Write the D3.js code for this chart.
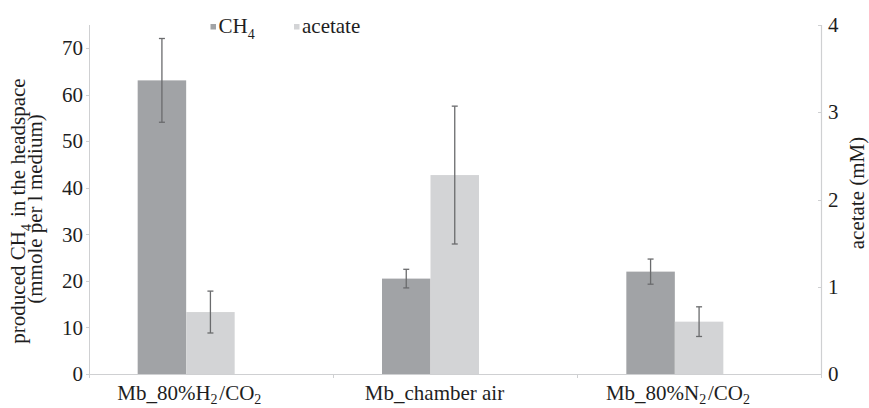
<!DOCTYPE html>
<html><head><meta charset="utf-8">
<script src="https://cdn.jsdelivr.net/npm/d3@7"></script>
<style>
html,body{margin:0;padding:0;background:#fff;}
svg{display:block;}
svg text{font-family:'Liberation Serif','Times New Roman',Times,'DejaVu Serif',serif;}
</style></head>
<body><svg id="c" width="869" height="408"></svg>
<script>
const categories = ["Mb_80%H2/CO2", "Mb_chamber air", "Mb_80%N2/CO2"];
const seriesNames = ["CH4", "acetate"];
const ch4 = [63.1, 20.5, 22.0];
const ch4Err = [9.0, 2.0, 2.7];
const acetate = [0.71, 2.28, 0.60];
const acetateErr = [0.24, 0.79, 0.17];
const leftTicks = [0, 10, 20, 30, 40, 50, 60, 70];
const rightTicks = [0, 1, 2, 3, 4];
const leftTitle = ["produced CH4 in the headspace", "(mmole per l medium)"];
const rightTitle = "acetate (mM)";

const FONT = "'Liberation Serif','Times New Roman',Times,'DejaVu Serif',serif";
const svg = d3.select("#c").attr("font-family", FONT);
const FS = 21, TXT = "#1e1e1e";
const AX = "#cfd0d2";
const plotL = 89, plotR = 821, plotT = 25, plotB = 374;
const colors = {CH4: "#a1a3a6", acetate: "#d3d4d6"};

const yL = d3.scaleLinear().domain([0, 75]).range([plotB, plotT]);
const yR = d3.scaleLinear().domain([0, 4]).range([plotB, plotT]);
const x = d3.scaleBand().domain(categories).range([64, 797]).paddingInner(0.603).paddingOuter(0.3015);
const xs = d3.scaleBand().domain(seriesNames).range([0, x.bandwidth()]);
const xt = d3.scaleLinear().domain([0, 3]).range([plotL, plotR]);

function richText(sel, str, subSize, shift) {
  const parts = str.split(/(?<=[A-Z])(\d)/);
  parts.forEach((p, i) => {
    if (!p) return;
    if (i % 2 === 1) {
      sel.append("tspan").attr("dy", shift).attr("font-size", subSize).text(p);
      sel.append("tspan").attr("dy", -shift).text("\u200A");
    } else {
      sel.append("tspan").text(p);
    }
  });
}
function txt(parent) {
  return parent.append("text").attr("font-family", FONT).attr("font-size", FS).attr("fill", TXT);
}

svg.append("line").attr("x1", plotL + 0.5).attr("x2", plotL + 0.5).attr("y1", plotT).attr("y2", plotB)
  .attr("stroke", AX).attr("stroke-width", 1);
svg.append("line").attr("x1", plotR + 0.5).attr("x2", plotR + 0.5).attr("y1", plotT).attr("y2", plotB)
  .attr("stroke", AX).attr("stroke-width", 1.2);

const gl = svg.append("g");
leftTicks.forEach(t => {
  gl.append("line").attr("x1", plotL - 3).attr("x2", plotL).attr("y1", Math.round(yL(t)) + 0.5).attr("y2", Math.round(yL(t)) + 0.5)
    .attr("stroke", AX);
  txt(gl).attr("x", 83).attr("y", yL(t)).attr("dy", "0.34em").attr("text-anchor", "end").text(t);
});
const gr = svg.append("g");
rightTicks.forEach(t => {
  gr.append("line").attr("x1", plotR - 3).attr("x2", plotR).attr("y1", Math.round(yR(t)) + 0.5).attr("y2", Math.round(yR(t)) + 0.5)
    .attr("stroke", AX);
  txt(gr).attr("x", 828).attr("y", yR(t)).attr("dy", "0.34em").attr("text-anchor", "start").text(t);
});

const groups = svg.append("g").selectAll("g").data(categories).join("g")
  .attr("transform", d => `translate(${x(d)},0)`);
groups.append("rect").attr("x", xs("CH4")).attr("width", xs.bandwidth())
  .attr("y", (d, i) => yL(ch4[i])).attr("height", (d, i) => plotB - yL(ch4[i])).attr("fill", colors.CH4);
groups.append("rect").attr("x", xs("acetate")).attr("width", xs.bandwidth())
  .attr("y", (d, i) => yR(acetate[i])).attr("height", (d, i) => plotB - yR(acetate[i])).attr("fill", colors.acetate);

svg.append("line").attr("x1", plotL).attr("x2", plotR).attr("y1", plotB + 0.5).attr("y2", plotB + 0.5)
  .attr("stroke", AX).attr("stroke-width", 1.2);
[0, 1, 2, 3].forEach(k => {
  svg.append("line").attr("x1", Math.round(xt(k)) + 0.5).attr("x2", Math.round(xt(k)) + 0.5)
    .attr("y1", plotB).attr("y2", plotB + 4).attr("stroke", AX);
});

function errBar(g, cx, yTop, yBot) {
  const c = "#6a6b6d", w = 3;
  g.append("line").attr("x1", cx).attr("x2", cx).attr("y1", yTop).attr("y2", yBot).attr("stroke", c).attr("stroke-width", 1.3);
  g.append("line").attr("x1", cx - w).attr("x2", cx + w).attr("y1", yTop).attr("y2", yTop).attr("stroke", c).attr("stroke-width", 1.3);
  g.append("line").attr("x1", cx - w).attr("x2", cx + w).attr("y1", yBot).attr("y2", yBot).attr("stroke", c).attr("stroke-width", 1.3);
}
const eg = svg.append("g");
categories.forEach((c, i) => {
  const cx1 = x(c) + xs("CH4") + xs.bandwidth() / 2;
  errBar(eg, cx1, yL(ch4[i] + ch4Err[i]), yL(ch4[i] - ch4Err[i]));
  const cx2 = x(c) + xs("acetate") + xs.bandwidth() / 2;
  errBar(eg, cx2, yR(acetate[i] + acetateErr[i]), yR(acetate[i] - acetateErr[i]));
});

categories.forEach(c => {
  const t = txt(svg).attr("x", x(c) + x.bandwidth() / 2 + 4).attr("y", 400).attr("text-anchor", "middle");
  richText(t, c, 14, 4);
});

const legX = [210.5, 294];
seriesNames.forEach((s, i) => {
  svg.append("rect").attr("x", legX[i]).attr("y", 24).attr("width", 5.5).attr("height", 5.5).attr("fill", colors[s]);
  const t = txt(svg).attr("x", legX[i] + 8).attr("y", 32.5);
  richText(t, s, 14, 6);
});

const lt1 = txt(svg).attr("transform", "translate(25,211) rotate(-90)").attr("text-anchor", "middle");
richText(lt1, leftTitle[0], 14, 6);
txt(svg).attr("transform", "translate(41.5,209) rotate(-90)").attr("text-anchor", "middle").text(leftTitle[1]);

txt(svg).attr("transform", "translate(864,193) rotate(-90)").attr("text-anchor", "middle").text(rightTitle);
</script></body></html>
